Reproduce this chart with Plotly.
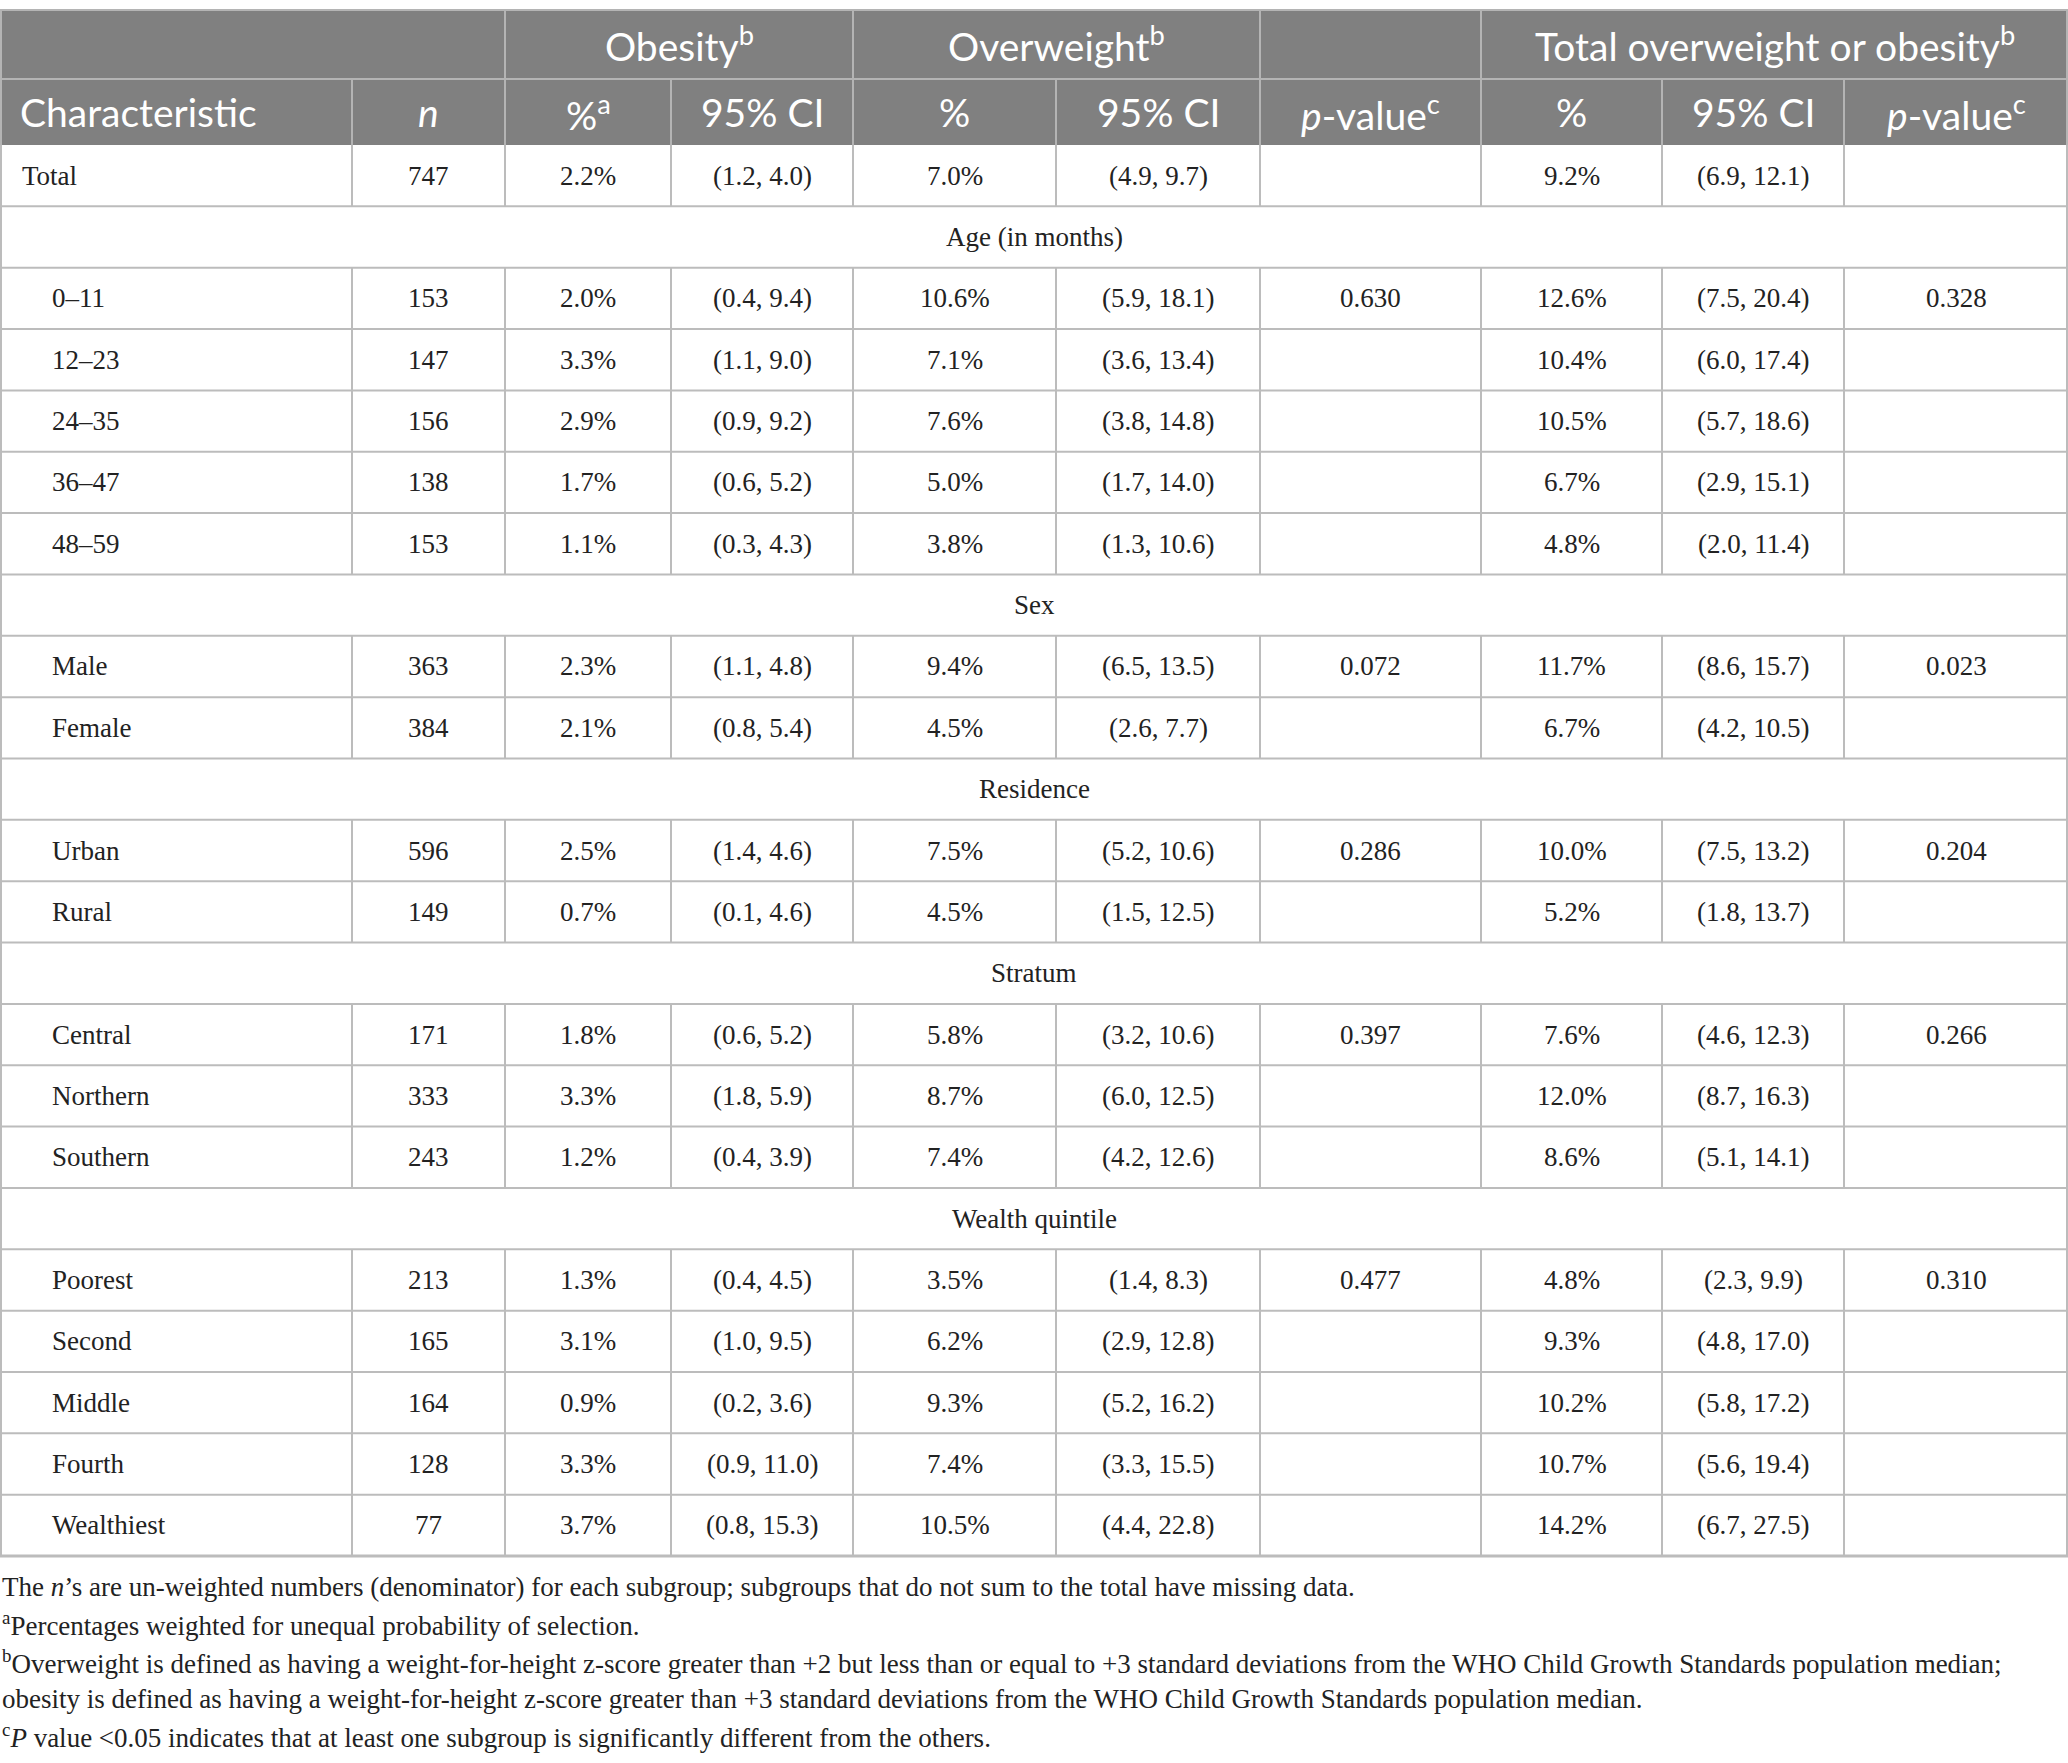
import plotly.graph_objects as go

group_names = ["Age (in months)", "Sex", "Residence", "Stratum", "Wealth quintile"]
group_sizes = [5, 2, 2, 3, 5]
subgroups = ["0–11", "12–23", "24–35", "36–47", "48–59", "Male", "Female", "Urban", "Rural",
             "Central", "Northern", "Southern", "Poorest", "Second", "Middle", "Fourth", "Wealthiest"]
n_vals = [153, 147, 156, 138, 153, 363, 384, 596, 149, 171, 333, 243, 213, 165, 164, 128, 77]
obese_pct = [2.0, 3.3, 2.9, 1.7, 1.1, 2.3, 2.1, 2.5, 0.7, 1.8, 3.3, 1.2, 1.3, 3.1, 0.9, 3.3, 3.7]
obese_lo = [0.4, 1.1, 0.9, 0.6, 0.3, 1.1, 0.8, 1.4, 0.1, 0.6, 1.8, 0.4, 0.4, 1.0, 0.2, 0.9, 0.8]
obese_hi = [9.4, 9.0, 9.2, 5.2, 4.3, 4.8, 5.4, 4.6, 4.6, 5.2, 5.9, 3.9, 4.5, 9.5, 3.6, 11.0, 15.3]
over_pct = [10.6, 7.1, 7.6, 5.0, 3.8, 9.4, 4.5, 7.5, 4.5, 5.8, 8.7, 7.4, 3.5, 6.2, 9.3, 7.4, 10.5]
over_lo = [5.9, 3.6, 3.8, 1.7, 1.3, 6.5, 2.6, 5.2, 1.5, 3.2, 6.0, 4.2, 1.4, 2.9, 5.2, 3.3, 4.4]
over_hi = [18.1, 13.4, 14.8, 14.0, 10.6, 13.5, 7.7, 10.6, 12.5, 10.6, 12.5, 12.6, 8.3, 12.8, 16.2, 15.5, 22.8]
tot_pct = [12.6, 10.4, 10.5, 6.7, 4.8, 11.7, 6.7, 10.0, 5.2, 7.6, 12.0, 8.6, 4.8, 9.3, 10.2, 10.7, 14.2]
tot_lo = [7.5, 6.0, 5.7, 2.9, 2.0, 8.6, 4.2, 7.5, 1.8, 4.6, 8.7, 5.1, 2.3, 4.8, 5.8, 5.6, 6.7]
tot_hi = [20.4, 17.4, 18.6, 15.1, 11.4, 15.7, 10.5, 13.2, 13.7, 12.3, 16.3, 14.1, 9.9, 17.0, 17.2, 19.4, 27.5]
p_over = [0.630, 0.072, 0.286, 0.397, 0.477]
p_total = [0.328, 0.023, 0.204, 0.266, 0.310]

total_n = 747
total_obese = [2.2, 1.2, 4.0]
total_over = [7.0, 4.9, 9.7]
total_all = [9.2, 6.9, 12.1]

footnotes = [
    "The <i>n</i>’s are un-weighted numbers (denominator) for each subgroup; subgroups that do not sum to the total have missing data.",
    "<sup>a</sup>Percentages weighted for unequal probability of selection.",
    "<sup>b</sup>Overweight is defined as having a weight-for-height z-score greater than +2 but less than or equal to +3 standard deviations from the WHO Child Growth Standards population median;",
    "obesity is defined as having a weight-for-height z-score greater than +3 standard deviations from the WHO Child Growth Standards population median.",
    "<sup>c</sup><i>P</i> value &lt;0.05 indicates that at least one subgroup is significantly different from the others.",
]

# ---- layout constants ----
W, H = 2068, 1763
col_edges = [0, 352, 505, 671, 853, 1056, 1260, 1481, 1662, 1844, 2068]
centers = [(a + b) / 2 for a, b in zip(col_edges[:-1], col_edges[1:])]
TOP, H1, H2, ROW_H = 10, 79, 145, 61.35
HEAD_BG = "#808080"
HEAD_LINE = "#b4b4b4"
GRID = "#bcbcbc"
TXT = "#222222"
SERIF = "Liberation Serif"
SANS = "Lato"
BODY_SIZE = 27
HEAD_SIZE = 39
FOOT_SIZE = 27


def pct(v):
    return f"{v:.1f}%"


def ci(lo, hi):
    return f"({lo:.1f}, {hi:.1f})"


# build row list: ('data', cells, indent) or ('section', label)
rows = [("data", ["Total", str(total_n), pct(total_obese[0]), ci(*total_obese[1:]),
                  pct(total_over[0]), ci(*total_over[1:]), "",
                  pct(total_all[0]), ci(*total_all[1:]), ""], False)]
k = 0
for g, (name, size) in enumerate(zip(group_names, group_sizes)):
    rows.append(("section", name))
    for j in range(size):
        i = k + j
        rows.append(("data", [subgroups[i], str(n_vals[i]), pct(obese_pct[i]), ci(obese_lo[i], obese_hi[i]),
                              pct(over_pct[i]), ci(over_lo[i], over_hi[i]),
                              f"{p_over[g]:.3f}" if j == 0 else "",
                              pct(tot_pct[i]), ci(tot_lo[i], tot_hi[i]),
                              f"{p_total[g]:.3f}" if j == 0 else ""], True))
    k += size

fig = go.Figure()
shapes = []
annotations = []


def line(x0, y0, x1, y1, color, width=2):
    shapes.append(dict(type="line", xref="x", yref="y", x0=x0, y0=y0, x1=x1, y1=y1,
                       line=dict(color=color, width=width), layer="above"))


def label(x, y, txt, anchor, family, size, color):
    annotations.append(dict(x=x, y=y, text=txt, showarrow=False, xanchor=anchor, yanchor="middle",
                            font=dict(family=family, size=size, color=color)))


# header block
shapes.append(dict(type="rect", xref="x", yref="y", x0=0, x1=W, y0=TOP, y1=H2,
                   fillcolor=HEAD_BG, line=dict(width=0), layer="below"))
line(0, TOP, W, TOP, HEAD_LINE)
line(0, H1, W, H1, HEAD_LINE)
for x in [505, 853, 1260, 1481]:
    line(x, TOP, x, H1, HEAD_LINE)
for x in col_edges[1:-1]:
    line(x, H1, x, H2, HEAD_LINE)
line(1, TOP, 1, H2, HEAD_LINE)
line(W - 1, TOP, W - 1, H2, HEAD_LINE)

head1 = [("Obesity<sup>b</sup>", (505 + 853) / 2), ("Overweight<sup>b</sup>", (853 + 1260) / 2),
         ("Total overweight or obesity<sup>b</sup>", (1481 + W) / 2)]
for txt, x in head1:
    label(x, (TOP + H1) / 2 - 1, txt, "center", SANS, HEAD_SIZE, "white")
head2 = ["Characteristic", "<i>n</i>", "%<sup>a</sup>", "95% CI", "%", "95% CI", "<i>p</i>-value<sup>c</sup>",
         "%", "95% CI", "<i>p</i>-value<sup>c</sup>"]
for c, txt in enumerate(head2):
    if c == 0:
        label(18, (H1 + H2) / 2, txt, "left", SANS, HEAD_SIZE, "white")
    else:
        label(centers[c], (H1 + H2) / 2, txt, "center", SANS, HEAD_SIZE, "white")

# body
for r, row in enumerate(rows):
    y0 = H2 + r * ROW_H
    y1 = y0 + ROW_H
    ym = (y0 + y1) / 2
    line(0, y1, W, y1, GRID, 2 if r < len(rows) - 1 else 3)
    line(1, y0, 1, y1, GRID)
    line(W - 1, y0, W - 1, y1, GRID)
    if row[0] == "section":
        label(W / 2, ym, row[1], "center", SERIF, BODY_SIZE, TXT)
        continue
    cells, indent = row[1], row[2]
    for x in col_edges[1:-1]:
        line(x, y0, x, y1, GRID)
    for c, txt in enumerate(cells):
        if not txt:
            continue
        if c == 0:
            label(50 if indent else 20, ym, txt, "left", SERIF, BODY_SIZE, TXT)
        else:
            label(centers[c], ym, txt, "center", SERIF, BODY_SIZE, TXT)

# footnotes
foot_y = [1587, 1624, 1662, 1699, 1736]
for txt, y in zip(footnotes, foot_y):
    label(0, y, txt, "left", SERIF, FOOT_SIZE, TXT)

fig.update_layout(
    width=W, height=H,
    margin=dict(l=0, r=0, t=0, b=0),
    plot_bgcolor="white", paper_bgcolor="white",
    xaxis=dict(range=[0, W], visible=False, fixedrange=True),
    yaxis=dict(range=[H, 0], visible=False, fixedrange=True),
    shapes=shapes,
    annotations=annotations,
    showlegend=False,
)

fig.write_html("out.html", config={"displayModeBar": False},
               post_script="document.body.style.margin='0';")
